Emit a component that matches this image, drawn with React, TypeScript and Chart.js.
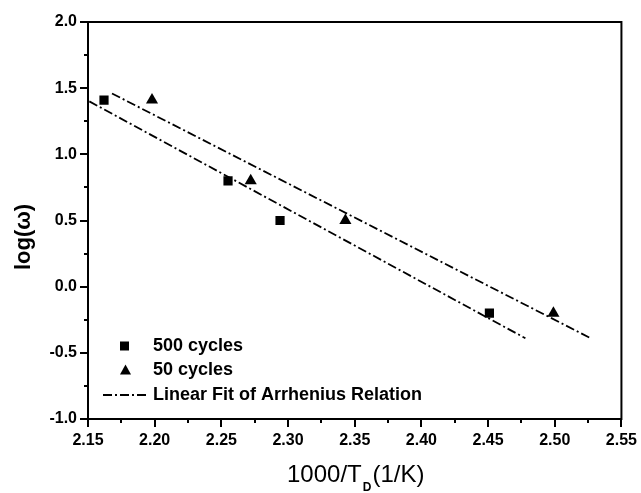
import React, { useEffect, useRef } from 'react';
import { Chart, registerables } from 'chart.js';

Chart.register(...registerables);

// ---- data ----
const cycles500X = [2.162, 2.255, 2.294, 2.451];
const cycles500Y = [1.41, 0.8, 0.5, -0.2];
const cycles50X = [2.198, 2.272, 2.343, 2.499];
const cycles50Y = [1.41, 0.8, 0.5, -0.2];
const fit500X = [2.151, 2.478];
const fit500Y = [1.4, -0.39];
const fit50X = [2.168, 2.527];
const fit50Y = [1.46, -0.39];

const xTickValues = [2.15, 2.175, 2.2, 2.225, 2.25, 2.275, 2.3, 2.325, 2.35, 2.375, 2.4, 2.425, 2.45, 2.475, 2.5, 2.525, 2.55];
const xTickLabels = ['2.15', '2.20', '2.25', '2.30', '2.35', '2.40', '2.45', '2.50', '2.55'];
const yTickValues = [-1.0, -0.75, -0.5, -0.25, 0.0, 0.25, 0.5, 0.75, 1.0, 1.25, 1.5, 1.75, 2.0];
const yTickLabels = ['-1.0', '-0.5', '0.0', '0.5', '1.0', '1.5', '2.0'];

const seriesNames = ['500 cycles', '50 cycles', 'Linear Fit of Arrhenius Relation'];
const yTitle = 'log(ω)';
const xTitleMain = '1000/T';
const xTitleSub = 'D';
const xTitleTail = '(1/K)';

const FONT = '"Liberation Sans", Arial, sans-serif';
const DASH = [9, 3, 2, 3];

const toPoints = (xs: number[], ys: number[]) => xs.map((x, i) => ({ x, y: ys[i] }));

const decorPlugin = {
  id: 'decor',
  afterDraw(chart: any) {
    const { ctx, chartArea } = chart;
    const { left, right, top, bottom } = chartArea;
    const xs = chart.scales.x;
    const ys = chart.scales.y;
    ctx.save();
    ctx.strokeStyle = '#000';
    ctx.lineWidth = 2;
    ctx.strokeRect(left, top, right - left, bottom - top);

    // ticks
    ctx.lineWidth = 2;
    ctx.beginPath();
    yTickValues.forEach((v, i) => {
      const py = Math.round(ys.getPixelForValue(v));
      const len = i % 2 === 0 ? 8 : 4;
      ctx.moveTo(left - len, py);
      ctx.lineTo(left, py);
    });
    xTickValues.forEach((v, i) => {
      const px = Math.round(xs.getPixelForValue(v));
      const len = i % 2 === 0 ? 8 : 4;
      ctx.moveTo(px, bottom);
      ctx.lineTo(px, bottom + len);
    });
    ctx.stroke();

    // legend
    ctx.fillStyle = '#000';
    ctx.fillRect(124.5 - 4.5, 346 - 4.5, 9, 9);
    ctx.beginPath();
    ctx.moveTo(125.5, 364.5);
    ctx.lineTo(131, 374.5);
    ctx.lineTo(120, 374.5);
    ctx.closePath();
    ctx.fill();
    ctx.beginPath();
    ctx.setLineDash(DASH);
    ctx.lineWidth = 1.8;
    ctx.moveTo(103, 395);
    ctx.lineTo(147, 395);
    ctx.stroke();
    ctx.setLineDash([]);

    ctx.font = `bold 18px ${FONT}`;
    ctx.textAlign = 'left';
    ctx.textBaseline = 'middle';
    ctx.fillText(seriesNames[0], 153, 346);
    ctx.fillText(seriesNames[1], 153, 370);
    ctx.fillText(seriesNames[2], 153, 395);

    // y title
    ctx.save();
    ctx.translate(24, 237);
    ctx.rotate(-Math.PI / 2);
    ctx.font = `bold 22px ${FONT}`;
    ctx.textAlign = 'center';
    ctx.textBaseline = 'middle';
    ctx.fillText(yTitle, 0, 0);
    ctx.restore();

    // x title with subscript
    const mainFont = `24px ${FONT}`;
    const subFont = `bold 12px ${FONT}`;
    ctx.font = mainFont;
    const w1 = ctx.measureText(xTitleMain).width;
    const w3 = ctx.measureText(xTitleTail).width;
    ctx.font = subFont;
    const w2 = ctx.measureText(xTitleSub).width + 2;
    const total = w1 + w2 + w3;
    const cx = (left + right) / 2 + 1;
    const x0 = cx - total / 2;
    const base = 482;
    ctx.textBaseline = 'alphabetic';
    ctx.font = mainFont;
    ctx.fillText(xTitleMain, x0, base);
    ctx.font = subFont;
    ctx.fillText(xTitleSub, x0 + w1 + 1, base + 9);
    ctx.font = mainFont;
    ctx.fillText(xTitleTail, x0 + w1 + w2, base);
    ctx.restore();
  },
};

export default function App() {
  const ref = useRef<HTMLCanvasElement | null>(null);

  useEffect(() => {
    document.body.style.margin = '0';
    const canvas = ref.current;
    if (!canvas) return;
    const chart = new Chart(canvas, {
      type: 'scatter',
      data: {
        datasets: [
          {
            label: seriesNames[0],
            data: toPoints(cycles500X, cycles500Y),
            pointStyle: 'rect',
            pointRadius: 6.5,
            backgroundColor: '#000',
            borderColor: '#000',
            borderWidth: 0,
          },
          {
            label: seriesNames[1],
            data: toPoints(cycles50X, cycles50Y),
            pointStyle: 'triangle',
            pointRadius: 7,
            backgroundColor: '#000',
            borderColor: '#000',
            borderWidth: 0,
          },
          {
            label: seriesNames[2],
            data: toPoints(fit500X, fit500Y),
            showLine: true,
            pointRadius: 0,
            borderColor: '#000',
            borderWidth: 1.8,
            borderDash: DASH,
          },
          {
            label: seriesNames[2] + ' (50)',
            data: toPoints(fit50X, fit50Y),
            showLine: true,
            pointRadius: 0,
            borderColor: '#000',
            borderWidth: 1.8,
            borderDash: DASH,
          },
        ],
      },
      options: {
        responsive: false,
        animation: false,
        devicePixelRatio: 1,
        layout: { padding: { left: 0, right: 17, top: 22, bottom: 0 } },
        plugins: {
          legend: { display: false },
          tooltip: { enabled: false },
          title: { display: false },
        },
        scales: {
          x: {
            type: 'linear',
            min: 2.15,
            max: 2.55,
            border: { display: false },
            grid: { display: false, drawTicks: true, tickLength: 8 },
            afterBuildTicks: (scale: any) => {
              scale.ticks = xTickValues.map((v) => ({ value: v }));
            },
            afterFit: (scale: any) => {
              scale.height = 74;
            },
            ticks: {
              autoSkip: false,
              maxRotation: 0,
              padding: 4,
              color: '#000',
              font: { family: FONT, size: 16, weight: 'bold' },
              callback: (_v: any, i: number) => (i % 2 === 0 ? xTickLabels[i / 2] : ''),
            },
          },
          y: {
            type: 'linear',
            min: -1.0,
            max: 2.0,
            border: { display: false },
            grid: { display: false, drawTicks: true, tickLength: 8 },
            afterBuildTicks: (scale: any) => {
              scale.ticks = yTickValues.map((v) => ({ value: v }));
            },
            afterFit: (scale: any) => {
              scale.width = 88;
            },
            ticks: {
              autoSkip: false,
              padding: 3,
              color: '#000',
              font: { family: FONT, size: 16, weight: 'bold' },
              callback: (_v: any, i: number) => (i % 2 === 0 ? yTickLabels[i / 2] : ''),
            },
          },
        },
      },
      plugins: [decorPlugin],
    });
    return () => chart.destroy();
  }, []);

  return (
    <div style={{ position: 'absolute', left: 0, top: 0, width: 641, height: 493, background: '#fff' }}>
      <canvas ref={ref} width={641} height={493} style={{ display: 'block', width: 641, height: 493 }} />
    </div>
  );
}
